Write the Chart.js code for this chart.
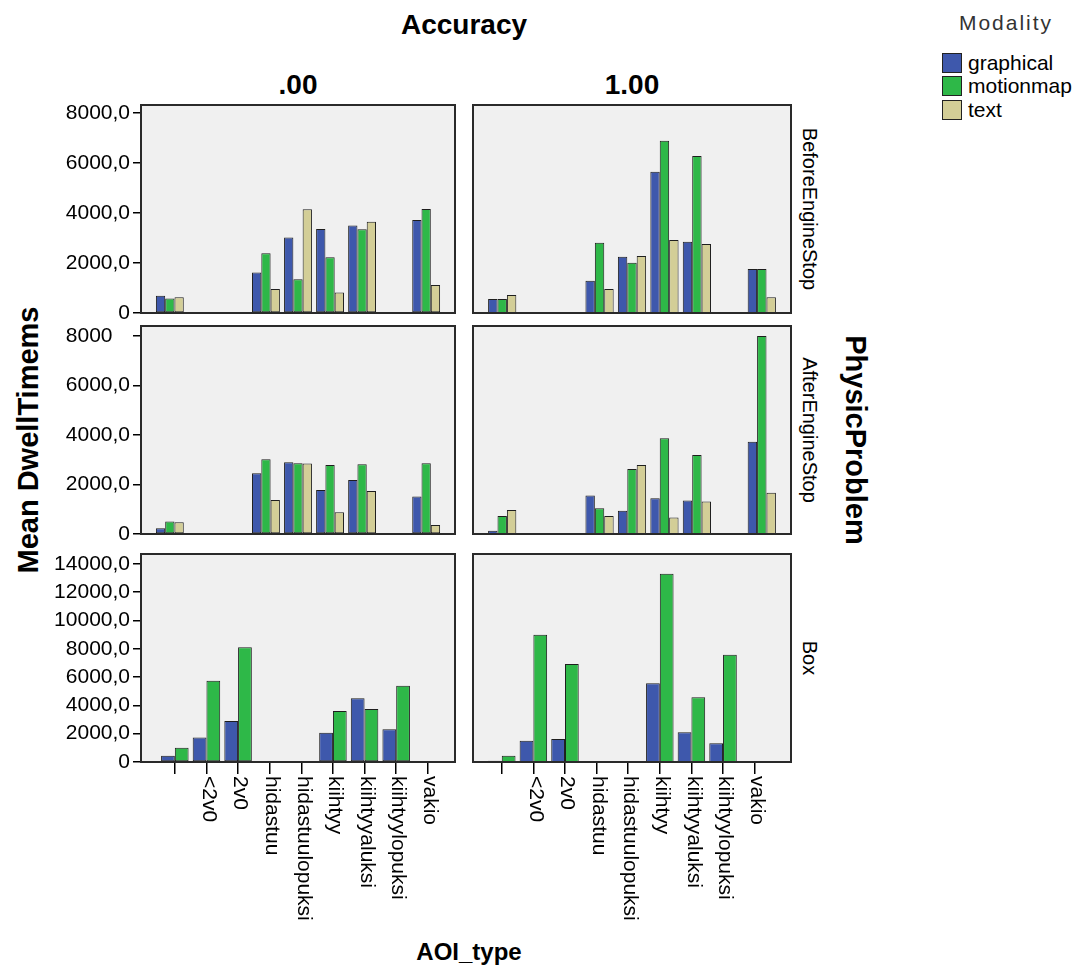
<!DOCTYPE html>
<html>
<head>
<meta charset="utf-8">
<script src="https://cdn.jsdelivr.net/npm/chart.js@4"></script>
<style>
  body { margin: 0; background: #fff; font-family: 'Liberation Sans', Arial, sans-serif; color: #000; }
  #page { position: relative; width: 1076px; height: 980px; overflow: hidden; }
  .box { position: absolute; }
  .txt { position: absolute; white-space: nowrap; line-height: 1; }
  .bold { font-weight: bold; }
  .vert { writing-mode: vertical-rl; }
  .legrow { position: absolute; left: 942px; height: 22px; display: flex; align-items: center; font-size: 21px; }
  .sw { width: 18px; height: 18px; border: 1.5px solid #222; margin-right: 6px; }
</style>
</head>
<body>
<div id="page">
  <div class="txt bold" style="left:464px; top:11px; font-size:28px; transform:translateX(-50%)">Accuracy</div>
  <div class="txt bold" style="left:298px; top:71px; font-size:28px; transform:translateX(-50%)">.00</div>
  <div class="txt bold" style="left:632px; top:71px; font-size:28px; transform:translateX(-50%)">1.00</div>

  <div class="txt" style="left:1006px; top:12px; font-size:21px; letter-spacing:2px; color:#333; transform:translateX(-50%)">Modality</div>
  <div class="legrow" style="top:52px"><div class="sw" style="background:#3e58ac"></div>graphical</div>
  <div class="legrow" style="top:75px"><div class="sw" style="background:#2eb848"></div>motionmap</div>
  <div class="legrow" style="top:99px"><div class="sw" style="background:#d3ce97"></div>text</div>

  <div class="txt vert" style="left:810px; top:209px; font-size:20px; transform:translate(-50%,-50%)">BeforeEngineStop</div>
  <div class="txt vert" style="left:810px; top:430px; font-size:20px; transform:translate(-50%,-50%)">AfterEngineStop</div>
  <div class="txt vert" style="left:810px; top:658px; font-size:20px; transform:translate(-50%,-50%)">Box</div>
  <div class="txt vert bold" style="left:855px; top:440px; font-size:29px; transform:translate(-50%,-50%)">PhysicProblem</div>
  <div class="txt bold" style="left:28px; top:440px; font-size:29px; transform:translate(-50%,-50%) rotate(-90deg)">Mean DwellTimems</div>
  <div class="txt bold" style="left:469px; top:940px; font-size:24px; transform:translateX(-50%)">AOI_type</div>
</div>
<script>
Chart.defaults.font.family = 'Liberation Sans';
Chart.defaults.font.size = 21;
Chart.defaults.color = '#000';

const aoiTypes = ['', '<2v0', '2v0', 'hidastuu', 'hidastuulopuksi', 'kiihtyy', 'kiihtyyaluksi', 'kiihtyylopuksi', 'vakio'];
const modalities = ['graphical', 'motionmap', 'text'];
const modalityColors = ['#3e58ac', '#2eb848', '#d3ce97'];

// BeforeEngineStop
const beforeAcc0Graphical = [690, null, null, 1620, 3020, 3360, 3500, null, 3720];
const beforeAcc0Motionmap = [580, null, null, 2390, 1350, 2230, 3350, null, 4160];
const beforeAcc0Text      = [630, null, null, 960, 4150, 820, 3650, null, 1120];
const beforeAcc1Graphical = [560, null, null, 1290, 2250, 5650, 2850, null, 1760];
const beforeAcc1Motionmap = [560, null, null, 2810, 2010, 6890, 6280, null, 1760];
const beforeAcc1Text      = [720, null, null, 960, 2280, 2920, 2760, null, 630];
// AfterEngineStop
const afterAcc0Graphical = [230, null, null, 2450, 2900, 1780, 2180, null, 1510];
const afterAcc0Motionmap = [500, null, null, 3020, 2860, 2790, 2820, null, 2860];
const afterAcc0Text      = [470, null, null, 1370, 2850, 880, 1740, null, 360];
const afterAcc1Graphical = [135, null, null, 1550, 940, 1440, 1350, null, 3730];
const afterAcc1Motionmap = [730, null, null, 1040, 2630, 3870, 3190, null, 8000];
const afterAcc1Text      = [970, null, null, 730, 2790, 670, 1310, null, 1670];
// Box (no text modality)
const boxAcc0Graphical = [450, 1740, 2900, null, null, 2070, 4500, 2310, null];
const boxAcc0Motionmap = [1010, 5750, 8110, null, null, 3600, 3750, 5390, null];
const boxAcc1Graphical = [90, 1510, 1620, null, null, 5560, 2100, 1320, null];
const boxAcc1Motionmap = [450, 8990, 6930, null, null, 13300, 4570, 7580, null];

const yTickStep = 2000;
const yTicksBefore = ['0', '2000,0', '4000,0', '6000,0', '8000,0'];
const yTicksAfter  = ['0', '2000,0', '4000,0', '6000,0', '8000   '];
const yTicksBox    = ['0', '2000,0', '4000,0', '6000,0', '8000,0', '10000,0', '12000,0', '14000,0'];

// panel frame: light grey fill and dark border round the chart area
const panelBox = {
  id: 'panelBox',
  beforeDraw(chart) {
    const a = chart.chartArea, ctx = chart.ctx;
    ctx.save();
    ctx.fillStyle = '#f0f0f0';
    ctx.fillRect(a.left, a.top, a.right - a.left, a.bottom - a.top);
    ctx.restore();
  },
  afterDraw(chart, args, opts) {
    const a = chart.chartArea, ctx = chart.ctx;
    ctx.save();
    ctx.strokeStyle = '#2a2a2a';
    ctx.lineWidth = 2;
    ctx.strokeRect(a.left, a.top, a.right - a.left, a.bottom - a.top);
    // vertical AOI labels under the bottom row, reading downwards
    if (opts.labels) {
      const xs = chart.scales.x;
      ctx.fillStyle = '#000';
      ctx.font = '21px "Liberation Sans"';
      ctx.textAlign = 'left';
      ctx.textBaseline = 'middle';
      xs.ticks.forEach((t, i) => {
        const lab = opts.labels[t.value];
        if (!lab) return;
        ctx.save();
        ctx.translate(xs.getPixelForTick(i) + 2, a.bottom + 14);
        ctx.rotate(Math.PI / 2);
        ctx.fillText(lab, 0, 0);
        ctx.restore();
      });
    }
    ctx.restore();
  }
};

function toPoints(arr) {
  return arr.map((v, i) => ({ x: i, y: v }));
}

function makePanel(opt) {
  const wrap = document.createElement('div');
  wrap.className = 'box';
  wrap.style.left = opt.left + 'px';
  wrap.style.top = opt.top + 'px';
  wrap.style.width = opt.width + 'px';
  wrap.style.height = opt.height + 'px';
  const cv = document.createElement('canvas');
  wrap.appendChild(cv);
  document.getElementById('page').appendChild(wrap);

  const datasets = opt.series.map((s, k) => ({
    label: modalities[k],
    data: toPoints(s),
    backgroundColor: modalityColors[k],
    borderColor: '#1e1e1e',
    borderWidth: 1,
    borderSkipped: false,
    categoryPercentage: 0.87,
    barPercentage: 1.0,
  }));

  return new Chart(cv, {
    type: 'bar',
    data: { datasets },
    plugins: [panelBox],
    options: {
      responsive: true,
      maintainAspectRatio: false,
      animation: false,
      layout: { padding: opt.padding },
      plugins: {
        legend: { display: false },
        tooltip: { enabled: false },
        panelBox: { labels: opt.xLabels || null },
      },
      scales: {
        x: {
          type: 'linear',
          bounds: 'data',
          min: opt.xMin,
          max: opt.xMax,
          offset: false,
          display: !!opt.xLabels,
          border: { display: false },
          grid: { offset: false, drawOnChartArea: false, tickLength: 12, color: '#000', lineWidth: 1.5 },
          ticks: { display: false },
          // one tick per AOI category
          afterBuildTicks(s) { s.ticks = aoiTypes.map((_, i) => ({ value: i })); },
          afterFit(s) { if (opt.xLabels) s.height = 12; },
        },
        y: {
          bounds: 'data',
          min: 0,
          max: opt.yMax,
          display: !!opt.yTicks,
          border: { display: false },
          grid: { drawOnChartArea: false, tickLength: 8, color: '#000', lineWidth: 1.5 },
          ticks: {
            autoSkip: false,
            padding: 3,
            font: { size: 21, lineHeight: 1 },
            callback: (v, i) => opt.yTicks ? opt.yTicks[i] : '',
          },
          afterBuildTicks(s) {
            const labs = opt.yTicks || [];
            s.ticks = labs.map((_, i) => ({ value: i * yTickStep }));
          },
          afterFit(s) { if (opt.yTicks) s.width = 141; },
        },
      },
    },
  });
}

// rows: BeforeEngineStop, AfterEngineStop, Box
const rowTop = [105, 326, 554];
const rowBottom = [313, 534, 762];

function rowBox(r, bottomRow) {
  const top = rowTop[r] - 15;
  if (!bottomRow) return { top, height: rowBottom[r] - rowTop[r] + 30, pt: 15, pb: 15 };
  const height = 960 - top;
  return { top, height, pt: 15, pb: height - (rowBottom[r] - top) - 12 };
}

const rowsData = [
  { series0: [beforeAcc0Graphical, beforeAcc0Motionmap, beforeAcc0Text],
    series1: [beforeAcc1Graphical, beforeAcc1Motionmap, beforeAcc1Text],
    yMax: 8320, yTicks: yTicksBefore, x0: [-0.9, 8.9], x1: [-0.9, 8.9] },
  { series0: [afterAcc0Graphical, afterAcc0Motionmap, afterAcc0Text],
    series1: [afterAcc1Graphical, afterAcc1Motionmap, afterAcc1Text],
    yMax: 8400, yTicks: yTicksAfter, x0: [-0.9, 8.9], x1: [-0.9, 8.9] },
  { series0: [boxAcc0Graphical, boxAcc0Motionmap],
    series1: [boxAcc1Graphical, boxAcc1Motionmap],
    yMax: 14700, yTicks: yTicksBox, x0: [-1.07, 8.86], x1: [-0.91, 9.15] },
];

rowsData.forEach((rd, r) => {
  const last = r === 2;
  const b = rowBox(r, last);
  makePanel({
    left: 0, top: b.top, width: 470, height: b.height,
    padding: { left: 0, right: 15, top: b.pt, bottom: b.pb },
    series: rd.series0, yMax: rd.yMax, yTicks: rd.yTicks,
    xMin: rd.x0[0], xMax: rd.x0[1], xLabels: last ? aoiTypes : null,
  });
  makePanel({
    left: 458, top: b.top, width: 350, height: b.height,
    padding: { left: 15, right: 17, top: b.pt, bottom: b.pb },
    series: rd.series1, yMax: rd.yMax, yTicks: null,
    xMin: rd.x1[0], xMax: rd.x1[1], xLabels: last ? aoiTypes : null,
  });
});
</script>
</body>
</html>
